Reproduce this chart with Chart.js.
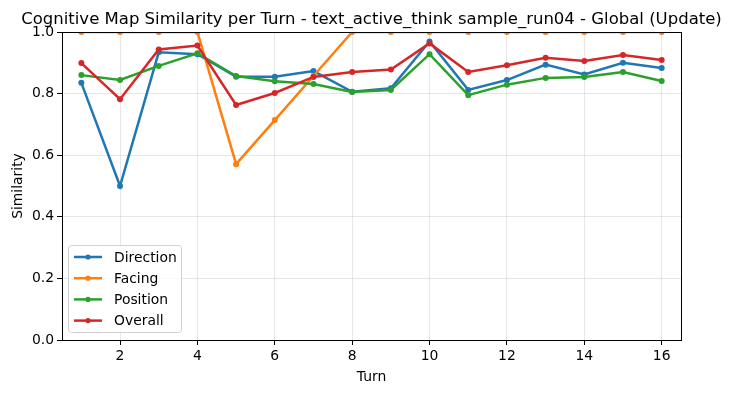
<!DOCTYPE html>
<html>
<head>
<meta charset="utf-8">
<script src="https://cdn.jsdelivr.net/npm/chart.js@4"></script>
<style>
  html, body { margin: 0; padding: 0; background: #fff; }
  #wrap { width: 733px; height: 393px; }
</style>
</head>
<body>
<div id="wrap"><canvas id="chart" width="733" height="393"></canvas></div>
<script>
const turns = [1, 2, 3, 4, 5, 6, 7, 8, 9, 10, 11, 12, 13, 14, 15, 16];
const direction = [0.835, 0.5, 0.934, 0.928, 0.855, 0.855, 0.873, 0.806, 0.817, 0.969, 0.812, 0.844, 0.894, 0.862, 0.9, 0.883];
const facing = [1.0, 1.0, 1.0, 1.0, 0.571, 0.714, 0.857, 1.0, 1.0, 1.0, 1.0, 1.0, 1.0, 1.0, 1.0, 1.0];
const position = [0.86, 0.844, 0.89, 0.931, 0.857, 0.84, 0.831, 0.805, 0.812, 0.928, 0.795, 0.829, 0.851, 0.854, 0.87, 0.841];
const overall = [0.899, 0.782, 0.943, 0.956, 0.763, 0.802, 0.854, 0.87, 0.878, 0.963, 0.87, 0.892, 0.916, 0.906, 0.925, 0.909];
const xTicks = [2, 4, 6, 8, 10, 12, 14, 16];
const yTicks = [0, 0.2, 0.4, 0.6, 0.8, 1.0];

const titleText = 'Cognitive Map Similarity per Turn - text_active_think sample_run04 - Global (Update)';
const FONT = '"DejaVu Sans", sans-serif';

function series(label, values, color, order) {
    return {
        label: label,
        data: turns.map((t, i) => ({ x: t, y: values[i] })),
        borderColor: color,
        backgroundColor: color,
        borderWidth: 2.5,
        pointRadius: 3,
        pointHoverRadius: 3,
        pointBorderWidth: 0,
        tension: 0,
        clip: 0,
        order: order
    };
}

// title, frame, axis labels and matplotlib-like legend
const decor = {
    id: 'decor',
    afterDraw(chart) {
        const ctx = chart.ctx;
        const a = chart.chartArea;
        ctx.save();
        ctx.strokeStyle = '#000';
        ctx.lineWidth = 1;
        ctx.strokeRect(Math.round(a.left) + 0.5, Math.round(a.top) + 0.5, Math.round(a.right - a.left), Math.round(a.bottom - a.top));

        ctx.fillStyle = '#000';
        ctx.font = '16.5px ' + FONT;
        ctx.textAlign = 'center';
        ctx.textBaseline = 'alphabetic';
        ctx.fillText(titleText, (a.left + a.right) / 2, 24);

        ctx.font = '13.9px ' + FONT;
        ctx.fillText('Turn', (a.left + a.right) / 2, 381);
        ctx.save();
        ctx.translate(22, (a.top + a.bottom) / 2);
        ctx.rotate(-Math.PI / 2);
        ctx.fillText('Similarity', 0, 0);
        ctx.restore();

        // legend box
        const bx = 68.5, by = 245.5, bw = 113, bh = 87;
        ctx.fillStyle = 'rgba(255,255,255,0.8)';
        ctx.strokeStyle = '#d0d0d0';
        ctx.beginPath();
        ctx.roundRect(bx, by, bw, bh, 3);
        ctx.fill();
        ctx.stroke();
        ctx.textAlign = 'left';
        ctx.textBaseline = 'middle';
        chart.data.datasets.forEach((ds, i) => {
            const y = 257 + i * 21.2;
            ctx.strokeStyle = ds.borderColor;
            ctx.lineWidth = 2.5;
            ctx.beginPath();
            ctx.moveTo(74, y);
            ctx.lineTo(102, y);
            ctx.stroke();
            ctx.fillStyle = ds.borderColor;
            ctx.beginPath();
            ctx.arc(88, y, 2.6, 0, Math.PI * 2);
            ctx.fill();
            ctx.fillStyle = '#000';
            ctx.fillText(ds.label, 114, y + 1);
        });
        ctx.restore();
    }
};

new Chart(document.getElementById('chart'), {
    type: 'line',
    data: {
        datasets: [
            series('Direction', direction, '#1f77b4', 4),
            series('Facing', facing, '#ff7f0e', 3),
            series('Position', position, '#2ca02c', 2),
            series('Overall', overall, '#d62728', 1)
        ]
    },
    options: {
        responsive: false,
        animation: false,
        layout: { padding: { top: 32, right: 52, left: 0, bottom: 0 } },
        plugins: {
            legend: { display: false },
            title: { display: false },
            tooltip: { enabled: false }
        },
        scales: {
            x: {
                type: 'linear',
                min: 0.5,
                max: 16.5,
                afterBuildTicks: (scale) => { scale.ticks = xTicks.map(v => ({ value: v })); },
                afterFit: (scale) => { scale.height = 53; },
                grid: { color: 'rgba(176,176,176,0.3)', tickColor: '#000', tickLength: 5 },
                border: { display: false },
                ticks: { color: '#000', font: { family: FONT, size: 13.9 }, padding: 3, maxRotation: 0 }
            },
            y: {
                min: 0,
                max: 1,
                afterBuildTicks: (scale) => { scale.ticks = yTicks.map(v => ({ value: v })); },
                afterFit: (scale) => { scale.width = 62; },
                grid: { color: 'rgba(176,176,176,0.3)', tickColor: '#000', tickLength: 5 },
                border: { display: false },
                ticks: { color: '#000', font: { family: FONT, size: 13.9 }, padding: 3, callback: (v) => v.toFixed(1) }
            }
        }
    },
    plugins: [decor]
});
</script>
</body>
</html>
